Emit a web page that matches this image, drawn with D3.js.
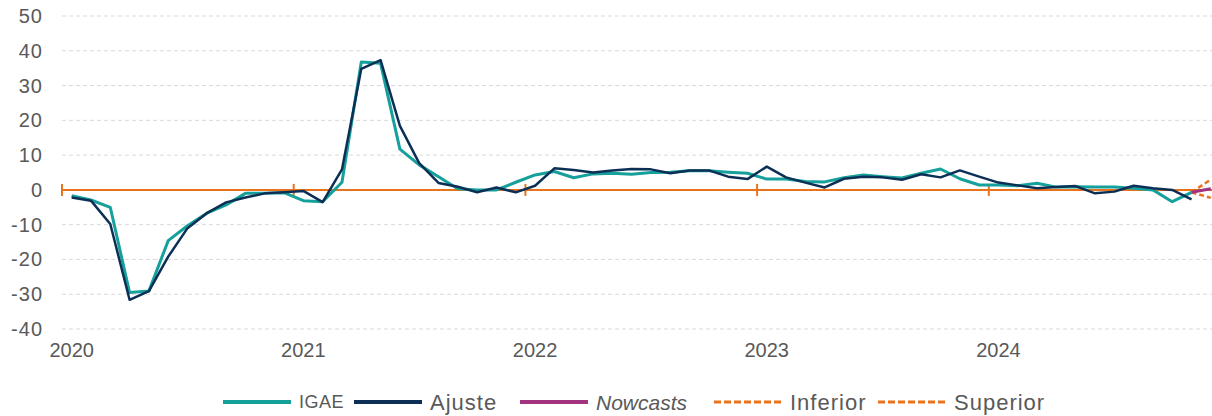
<!DOCTYPE html>
<html>
<head>
<meta charset="utf-8">
<script src="https://cdn.jsdelivr.net/npm/d3@7"></script>
<style>
  body { margin: 0; background: #fff; }
  svg { font-family: "Liberation Sans", Arial, sans-serif; }
</style>
</head>
<body>
<div id="app"></div>
<script>
const WIDTH = 1212
const HEIGHT = 416

// months Jan 2020 .. Dec 2024
const years = ['2020', '2021', '2022', '2023', '2024']
const months = years.flatMap(y => d3.range(1, 13).map(m => `${y}-${String(m).padStart(2, '0')}`))

const igae = [
  -1.7, -2.9, -5.0, -29.5, -29.1, -14.6, -10.3, -6.7, -4.3, -1.0, -1.0, -0.8,
  -3.1, -3.4, 2.2, 36.8, 36.4, 11.7, 7.2, 3.8, 0.3, 0.0, 0.0, 2.2,
  4.3, 5.3, 3.5, 4.6, 4.8, 4.5, 5.0, 5.1, 5.5, 5.5, 5.1, 4.8,
  3.1, 3.1, 2.4, 2.3, 3.5, 4.3, 3.8, 3.4, 4.8, 6.0, 3.2, 1.4,
  1.4, 1.2, 1.9, 0.8, 0.9, 0.8, 0.8, 0.5, 0.0, -3.4, -0.7
]
const ajuste = [
  -2.2, -3.1, -9.8, -31.6, -29.1, -19.2, -11.0, -6.7, -3.6, -2.2, -1.0, -0.7,
  -0.3, -3.5, 5.9, 34.8, 37.3, 18.4, 7.7, 2.0, 0.9, -0.7, 0.7, -0.7,
  1.2, 6.2, 5.7, 5.0, 5.6, 6.0, 5.9, 4.8, 5.6, 5.6, 3.8, 3.1,
  6.7, 3.6, 2.1, 0.7, 3.2, 3.8, 3.6, 2.9, 4.5, 3.6, 5.6, 3.8,
  2.1, 1.3, 0.5, 0.8, 1.1, -1.0, -0.5, 1.2, 0.5, 0.0, -2.7
]
const nowMonths = ['2024-11', '2024-12']
const nowcasts = [-0.7, 0.3]
const inferior = [-0.7, -2.3]
const superior = [-0.7, 3.0]

const yTicks = [-40, -30, -20, -10, 0, 10, 20, 30, 40, 50]

const C_IGAE = '#16a09b'
const C_AJ = '#0c2f55'
const C_NOW = '#a1337f'
const C_ORANGE = '#e8731c'
const C_TEXT = '#595959'

const x = d3.scaleBand().domain(months).range([62, 1220.5])
const y = d3.scaleLinear().domain([-40, 50]).range([329, 16])
const cx = m => x(m) + x.bandwidth() / 2

const svg = d3.select('#app').append('svg')
  .attr('width', WIDTH)
  .attr('height', HEIGHT)

const plot = svg.append('g')

// gridlines
plot.append('g')
  .selectAll('line')
  .data(yTicks.filter(d => d !== 0))
  .enter()
.append('line')
  .attr('x1', 62).attr('x2', WIDTH)
  .attr('y1', d => y(d)).attr('y2', d => y(d))
  .attr('stroke', '#d9d9d9')
  .attr('stroke-width', 1)
  .attr('stroke-dasharray', '4,3')

// y labels
svg.append('g')
  .selectAll('text')
  .data(yTicks)
  .enter()
.append('text')
  .attr('x', 43)
  .attr('y', d => y(d) + 7)
  .attr('text-anchor', 'end')
  .attr('fill', C_TEXT)
  .attr('font-size', 20)
  .attr('letter-spacing', 1)
  .text(d => d)

// zero axis in orange with year ticks
plot.append('line')
  .attr('x1', 62).attr('x2', WIDTH)
  .attr('y1', y(0)).attr('y2', y(0))
  .attr('stroke', C_ORANGE)
  .attr('stroke-width', 2)

plot.append('g')
  .selectAll('line')
  .data(years)
  .enter()
.append('line')
  .attr('x1', d => x(d + '-01')).attr('x2', d => x(d + '-01'))
  .attr('y1', y(0) - 6).attr('y2', y(0) + 6)
  .attr('stroke', C_ORANGE)
  .attr('stroke-width', 2)

// x labels
svg.append('g')
  .selectAll('text')
  .data(years)
  .enter()
.append('text')
  .attr('x', d => cx(d + '-01'))
  .attr('y', 357)
  .attr('text-anchor', 'middle')
  .attr('fill', C_TEXT)
  .attr('font-size', 20)
  .text(d => d)

const line = d3.line()
  .x(d => cx(d[0]))
  .y(d => y(d[1]))

const series = [
  { data: d3.zip(months, igae), color: C_IGAE, w: 3, dash: null },
  { data: d3.zip(months, ajuste), color: C_AJ, w: 2.5, dash: null },
  { data: d3.zip(nowMonths, inferior), color: C_ORANGE, w: 2.5, dash: '5,3' },
  { data: d3.zip(nowMonths, superior), color: C_ORANGE, w: 2.5, dash: '5,3' },
  { data: d3.zip(nowMonths, nowcasts), color: C_NOW, w: 3, dash: null }
]

plot.append('g')
  .selectAll('path')
  .data(series)
  .enter()
.append('path')
  .attr('d', d => line(d.data))
  .attr('fill', 'none')
  .attr('stroke', d => d.color)
  .attr('stroke-width', d => d.w)
  .attr('stroke-dasharray', d => d.dash)
  .attr('stroke-linejoin', 'round')

// legend
const legendItems = [
  { label: 'IGAE', color: C_IGAE, dash: null, x: 223, size: 18, italic: false, ls: 0.5 },
  { label: 'Ajuste', color: C_AJ, dash: null, x: 354, size: 22, italic: false, ls: 1 },
  { label: 'Nowcasts', color: C_NOW, dash: null, x: 520, size: 21, italic: true, ls: 0 },
  { label: 'Inferior', color: C_ORANGE, dash: '7,3', x: 714, size: 22, italic: false, ls: 1 },
  { label: 'Superior', color: C_ORANGE, dash: '7,3', x: 878, size: 22, italic: false, ls: 1 }
]

const legend = svg.append('g')
  .selectAll('g')
  .data(legendItems)
  .enter()
.append('g')
  .attr('transform', d => `translate(${d.x}, 402)`)

legend.append('line')
  .attr('x1', 0).attr('x2', 68)
  .attr('stroke', d => d.color)
  .attr('stroke-width', d => d.dash ? 3 : 4)
  .attr('stroke-dasharray', d => d.dash)

legend.append('text')
  .attr('x', 76)
  .attr('y', d => d.size * 0.36)
  .attr('fill', C_TEXT)
  .attr('font-size', d => d.size)
  .attr('font-style', d => d.italic ? 'italic' : null)
  .attr('letter-spacing', d => d.ls)
  .text(d => d.label)
</script>
</body>
</html>
